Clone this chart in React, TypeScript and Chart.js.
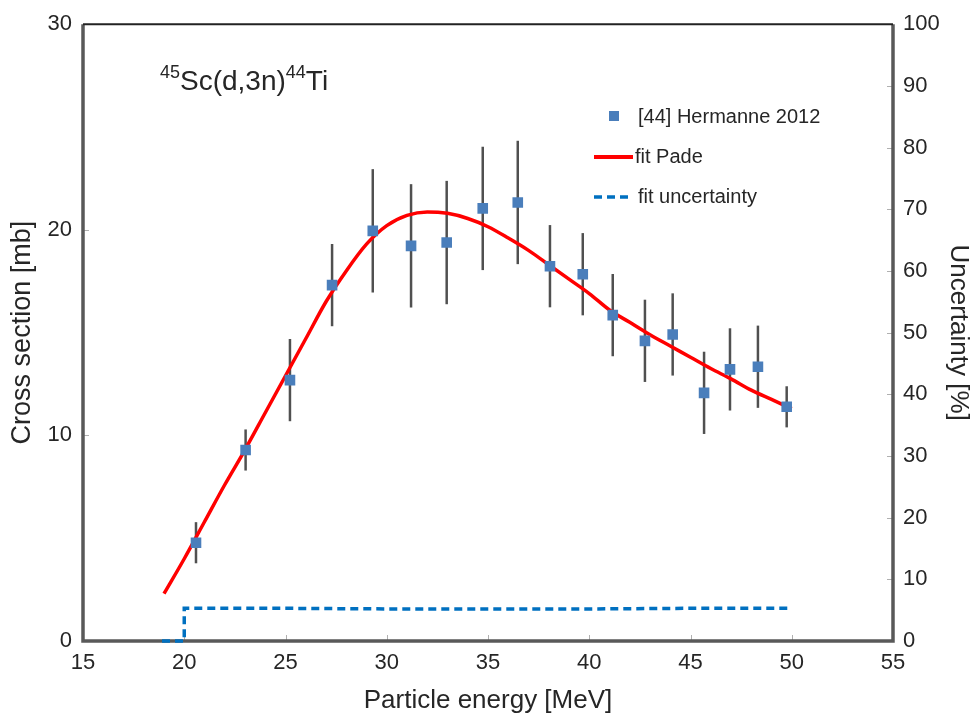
import React, { useEffect, useRef } from 'react';
import { Chart, registerables } from 'chart.js';

Chart.register(...registerables);

// ---- data ----
const energy = [20.58, 23.03, 25.22, 27.3, 29.31, 31.2, 32.96, 34.74, 36.47, 38.06, 39.68, 41.16, 42.75, 44.12, 45.67, 46.95, 48.33, 49.75];
const crossSection = [4.78, 9.29, 12.69, 17.31, 19.95, 19.22, 19.38, 21.04, 21.33, 18.23, 17.84, 15.85, 14.6, 14.91, 12.07, 13.21, 13.34, 11.39];
const crossSectionErr = [1.0, 1.0, 2.0, 2.0, 3.0, 3.0, 3.0, 3.0, 3.0, 2.0, 2.0, 2.0, 2.0, 2.0, 2.0, 2.0, 2.0, 1.0];

const fitEnergy = [19, 20, 21, 22, 23, 24, 25, 26, 27, 28, 29, 30, 31, 32, 33, 34, 35, 36, 37, 38, 39, 40, 41, 42, 43, 44, 45, 46, 47, 48, 49, 50];
const fitPade = [2.3, 4.0, 5.8, 7.6, 9.3, 11.1, 12.9, 14.7, 16.5, 18.0, 19.3, 20.2, 20.7, 20.87, 20.8, 20.55, 20.15, 19.6, 19.0, 18.3, 17.6, 16.9, 16.1, 15.5, 14.9, 14.35, 13.8, 13.25, 12.75, 12.2, 11.75, 11.3];

const uncEnergy = [18.9, 20.0, 20.0, 25, 30, 35, 40, 45, 50];
const uncValue = [0, 0, 5.3, 5.3, 5.2, 5.2, 5.2, 5.3, 5.3];

const xTickValues = [15, 20, 25, 30, 35, 40, 45, 50, 55];
const leftTickValues = [0, 10, 20, 30];
const rightTickValues = [0, 10, 20, 30, 40, 50, 60, 70, 80, 90, 100];

const legendLabels = ['[44] Hermanne 2012', 'fit Pade', 'fit uncertainty'];
const titleParts = ['45', 'Sc(d,3n)', '44', 'Ti'];

const FONT = '"Liberation Sans", Arial, sans-serif';
const TEXT = '#262626';
const MARKER = '#4a7ebb';
const RED = '#ff0000';
const BLUE = '#0070c0';
const FRAME = '#595959';

const overlay = {
  id: 'overlay',
  beforeDatasetsDraw(chart: any) {
    const ctx = chart.ctx;
    const { left, right, top, bottom } = chart.chartArea;
    const xs = chart.scales.x;
    const ys = chart.scales.y;
    const y2s = chart.scales.y2;
    ctx.save();
    // inward tick marks
    ctx.strokeStyle = '#b0b0b0';
    ctx.lineWidth = 1;
    const tl = 6;
    xTickValues.forEach((v) => {
      const p = Math.round(xs.getPixelForValue(v)) + 0.5;
      ctx.beginPath();
      ctx.moveTo(p, bottom);
      ctx.lineTo(p, bottom - tl);
      ctx.stroke();
    });
    leftTickValues.forEach((v) => {
      const p = Math.round(ys.getPixelForValue(v)) + 0.5;
      ctx.beginPath();
      ctx.moveTo(left, p);
      ctx.lineTo(left + tl, p);
      ctx.stroke();
    });
    rightTickValues.forEach((v) => {
      const p = Math.round(y2s.getPixelForValue(v)) + 0.5;
      ctx.beginPath();
      ctx.moveTo(right, p);
      ctx.lineTo(right - tl, p);
      ctx.stroke();
    });
    // frame
    ctx.strokeStyle = FRAME;
    ctx.lineWidth = 3.5;
    ctx.beginPath();
    ctx.moveTo(left, top);
    ctx.lineTo(left, bottom);
    ctx.lineTo(right, bottom);
    ctx.lineTo(right, top);
    ctx.stroke();
    ctx.strokeStyle = '#222222';
    ctx.lineWidth = 2;
    ctx.beginPath();
    ctx.moveTo(left, top);
    ctx.lineTo(right, top);
    ctx.stroke();

    // error bars
    ctx.strokeStyle = '#505050';
    ctx.lineWidth = 2.5;
    for (let i = 0; i < energy.length; i++) {
      const px = xs.getPixelForValue(energy[i]);
      const y1 = ys.getPixelForValue(crossSection[i] - crossSectionErr[i]);
      const y2 = ys.getPixelForValue(crossSection[i] + crossSectionErr[i]);
      ctx.beginPath();
      ctx.moveTo(px, y1);
      ctx.lineTo(px, y2);
      ctx.stroke();
    }
    ctx.restore();
  },
  afterDraw(chart: any) {
    const ctx = chart.ctx;
    ctx.save();
    // title with superscripts
    ctx.fillStyle = TEXT;
    ctx.textBaseline = 'alphabetic';
    ctx.textAlign = 'left';
    const bigFont = `28px ${FONT}`;
    const supFont = `18px ${FONT}`;
    let tx = 160;
    const baseY = 90;
    titleParts.forEach((part, i) => {
      const sup = i % 2 === 0;
      ctx.font = sup ? supFont : bigFont;
      ctx.fillText(part, tx, sup ? baseY - 12 : baseY);
      tx += ctx.measureText(part).width;
    });

    // legend
    ctx.font = `20px ${FONT}`;
    ctx.textBaseline = 'middle';
    ctx.fillStyle = MARKER;
    ctx.fillRect(609, 111, 10, 10);
    ctx.fillStyle = TEXT;
    ctx.fillText(legendLabels[0], 638, 117);

    ctx.strokeStyle = RED;
    ctx.lineWidth = 4;
    ctx.beginPath();
    ctx.moveTo(594, 157);
    ctx.lineTo(633, 157);
    ctx.stroke();
    ctx.fillText(legendLabels[1], 635, 157);

    ctx.strokeStyle = BLUE;
    ctx.lineWidth = 3.5;
    ctx.setLineDash([8, 5]);
    ctx.beginPath();
    ctx.moveTo(594, 197);
    ctx.lineTo(632, 197);
    ctx.stroke();
    ctx.setLineDash([]);
    ctx.fillText(legendLabels[2], 638, 197);
    ctx.restore();
  },
};

export default function App() {
  const ref = useRef<HTMLCanvasElement | null>(null);
  useEffect(() => {
    document.body.style.margin = '0';
    const canvas = ref.current;
    if (!canvas) return;
    const chart = new Chart(canvas, {
      type: 'scatter',
      data: {
        datasets: [
          {
            label: legendLabels[0],
            data: energy.map((x, i) => ({ x, y: crossSection[i] })),
            pointStyle: 'rect',
            pointRadius: 7.5,
            pointBackgroundColor: MARKER,
            pointBorderWidth: 0,
            showLine: false,
            yAxisID: 'y',
            order: 0,
          },
          {
            label: legendLabels[1],
            data: fitEnergy.map((x, i) => ({ x, y: fitPade[i] })),
            showLine: true,
            borderColor: RED,
            borderWidth: 3.5,
            pointRadius: 0,
            cubicInterpolationMode: 'monotone',
            yAxisID: 'y',
            order: 1,
          },
          {
            label: legendLabels[2],
            data: uncEnergy.map((x, i) => ({ x, y: uncValue[i] })),
            showLine: true,
            borderColor: BLUE,
            borderWidth: 3.5,
            borderDash: [8, 5],
            pointRadius: 0,
            tension: 0,
            yAxisID: 'y2',
            order: 2,
            clip: 4,
          },
        ],
      } as any,
      options: {
        animation: false,
        responsive: false,
        layout: { padding: { top: 24, left: 0, right: 0, bottom: 0 } },
        plugins: { legend: { display: false }, tooltip: { enabled: false } },
        scales: {
          x: {
            type: 'linear',
            min: 15,
            max: 55,
            ticks: { stepSize: 5, padding: 9, color: TEXT, font: { family: FONT, size: 22 } },
            grid: { display: false, drawTicks: false },
            border: { display: false },
            title: { display: true, text: 'Particle energy [MeV]', color: TEXT, font: { family: FONT, size: 26 }, padding: { top: 0, bottom: 2 } },
            afterFit: (s: any) => { s.height = 77; },
          },
          y: {
            type: 'linear',
            position: 'left',
            min: 0,
            max: 30,
            ticks: { stepSize: 10, padding: 11, color: TEXT, font: { family: FONT, size: 22 } },
            grid: { display: false, drawTicks: false },
            border: { display: false },
            title: { display: true, text: 'Cross section [mb]', color: TEXT, font: { family: FONT, size: 27 }, padding: { top: 6, bottom: 0 } },
            afterFit: (s: any) => { s.width = 83; },
          },
          y2: {
            type: 'linear',
            position: 'right',
            min: 0,
            max: 100,
            ticks: { stepSize: 10, padding: 10, color: TEXT, font: { family: FONT, size: 22 } },
            grid: { display: false, drawTicks: false },
            border: { display: false },
            title: { display: true, text: 'Uncertainty [%]', color: TEXT, font: { family: FONT, size: 26 }, padding: { top: 0, bottom: 0 } },
            afterFit: (s: any) => { s.width = 81; },
          },
        },
      } as any,
      plugins: [overlay],
    });
    return () => chart.destroy();
  }, []);
  return (
    <div style={{ width: 974, height: 718, position: 'relative' }}>
      <canvas ref={ref} width={974} height={718} style={{ display: 'block' }} />
    </div>
  );
}
